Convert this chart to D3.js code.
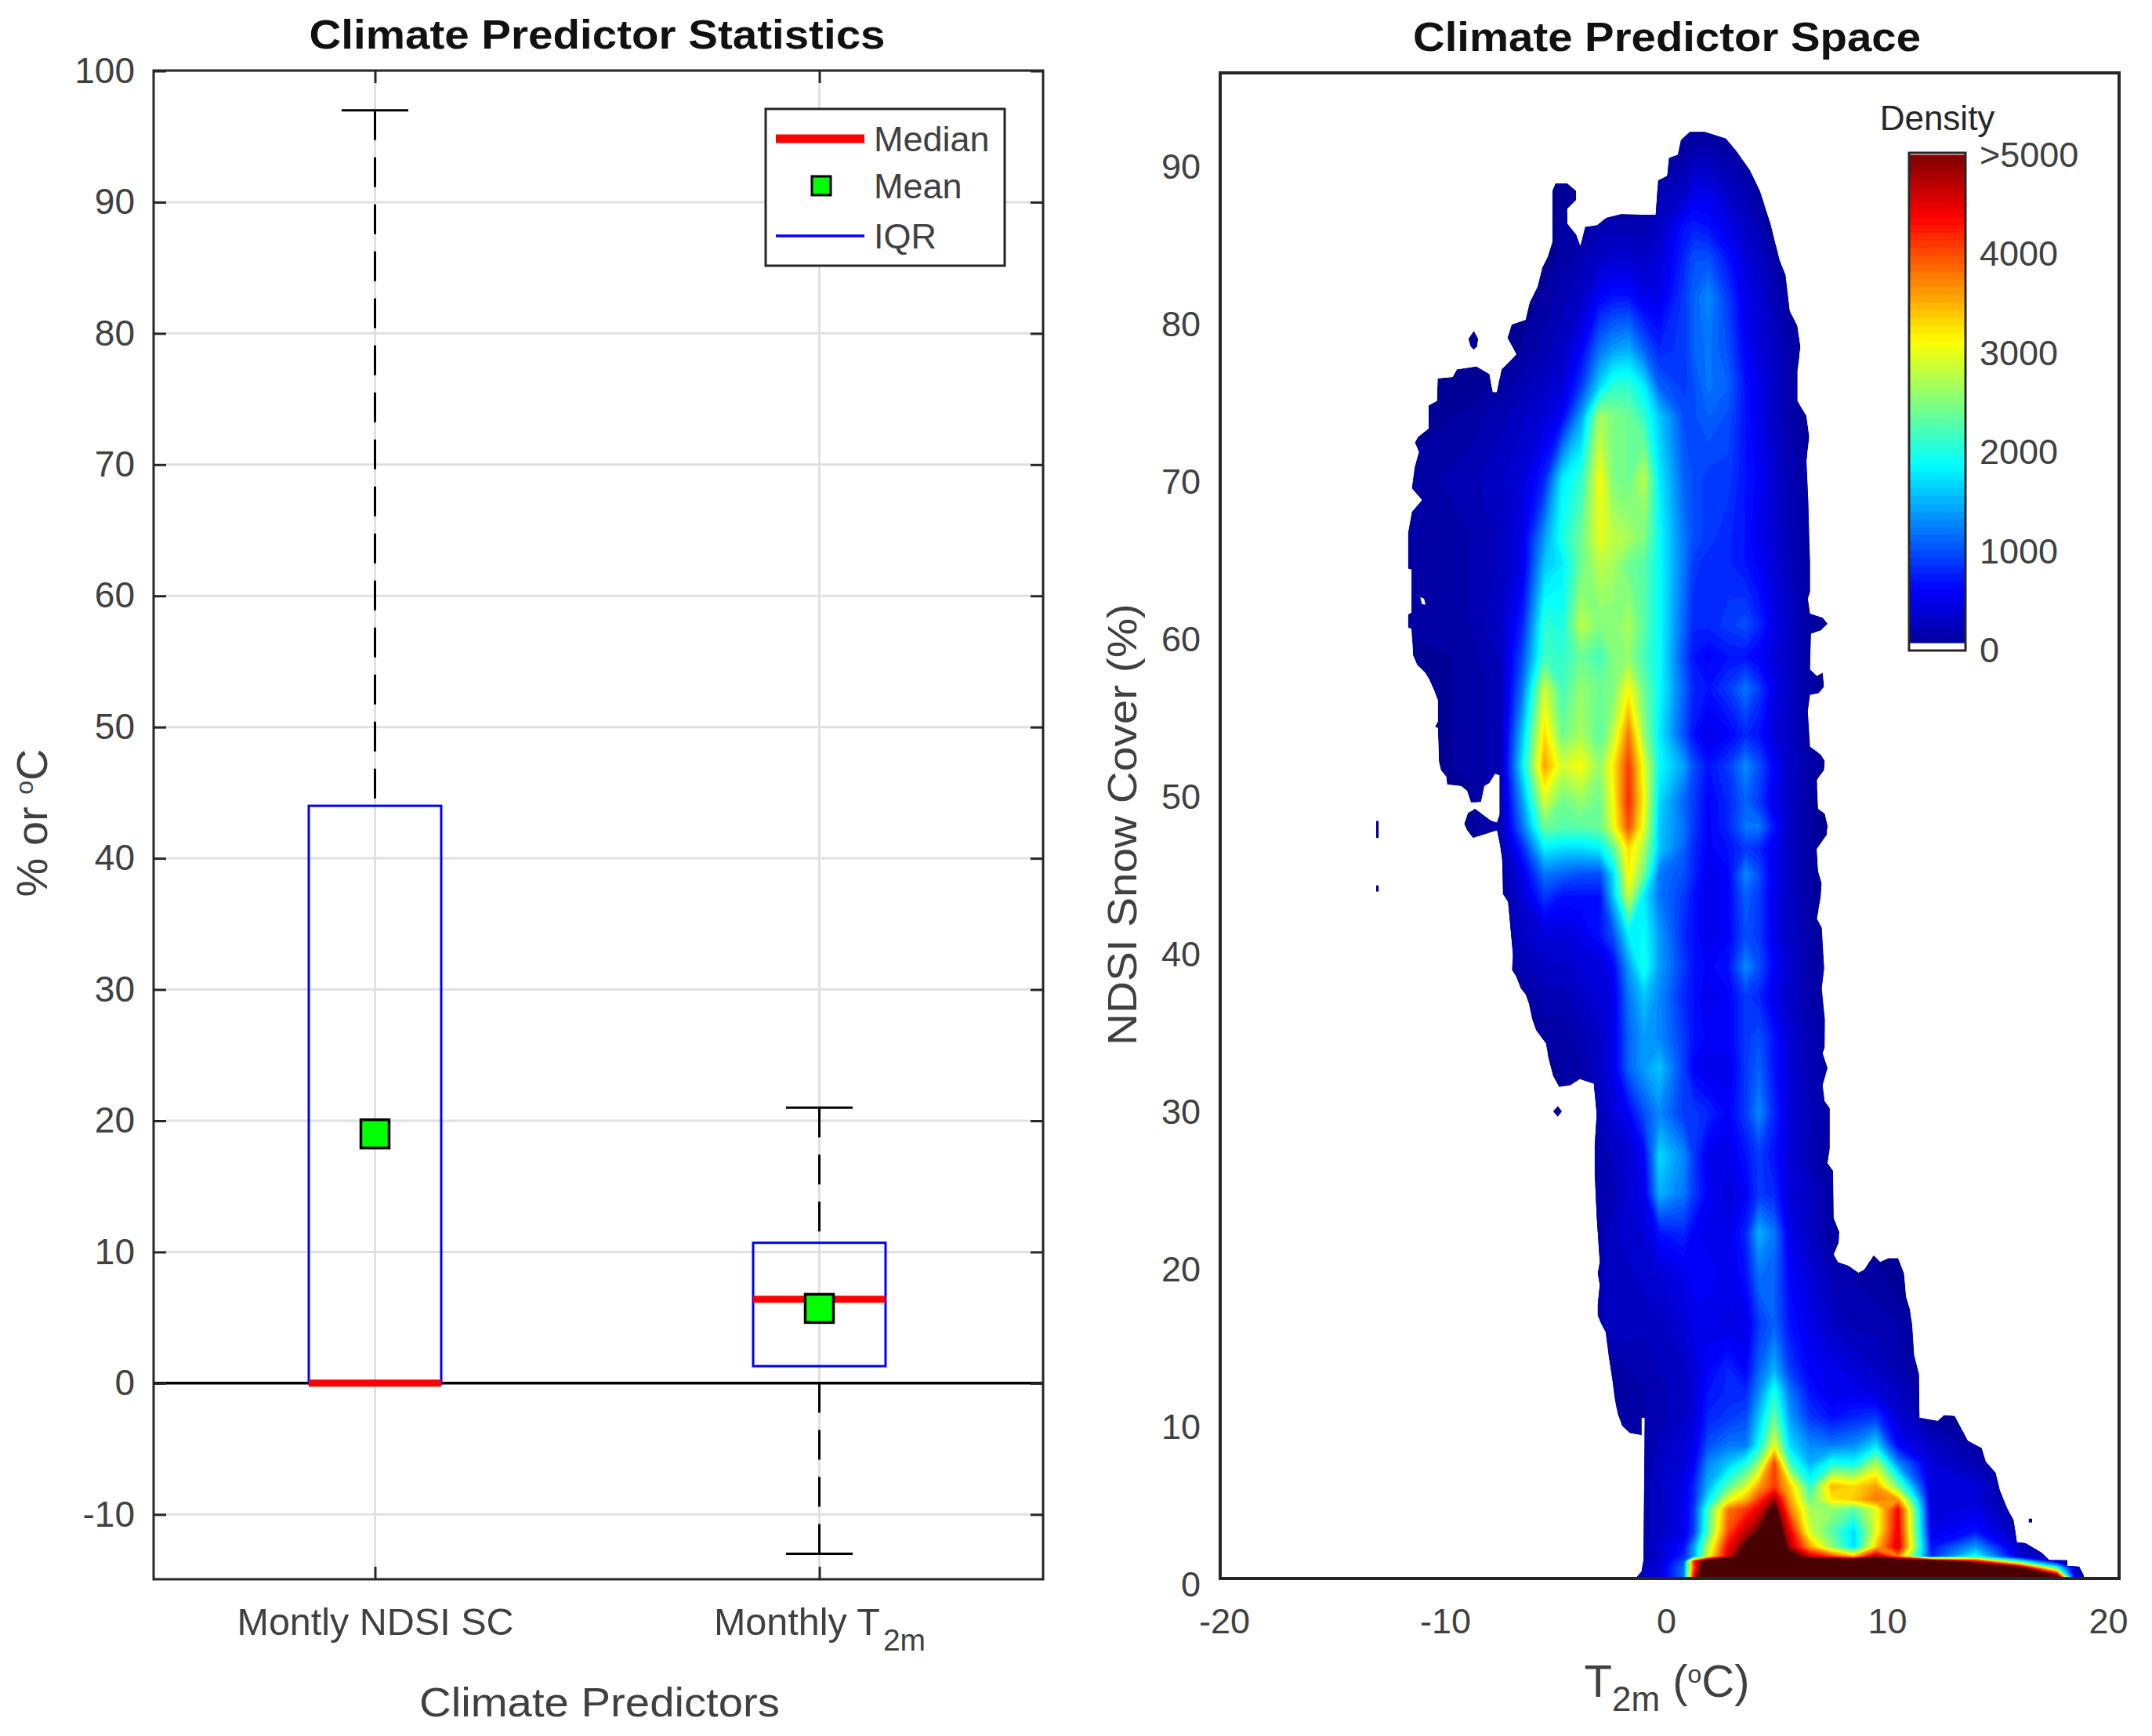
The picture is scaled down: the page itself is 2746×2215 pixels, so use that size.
<!DOCTYPE html>
<html><head><meta charset="utf-8">
<script src="https://cdn.jsdelivr.net/npm/d3@7"></script>
<style>html,body{margin:0;background:#fff}text{font-family:"Liberation Sans",Arial,sans-serif}</style>
</head><body><svg id="c" width="2746" height="2215"></svg>
<script>
// ---------- left panel data ----------
const categories = ["Montly NDSI SC", "Monthly T"];
const categorySubs = ["", "2m"];
const whiskerHigh = [97, 21];
const whiskerLow = [0, -13];
const q3 = [44, 10.7];
const q1 = [0, 1.3];
const medians = [0, 6.4];
const means = [19, 5.7];
const leftTicks = [-10,0,10,20,30,40,50,60,70,80,90,100];
// ---------- right panel data ----------
const rightXTicks = [-20,-10,0,10,20];
const rightYTicks = [0,10,20,30,40,50,60,70,80,90];
const barTicks = [0,1000,2000,3000,4000,5000];
// footprint outline [T, NDSI]
const outline = [[1.07,91.83],[1.75,91.83],[2.7,91.41],[3.16,90.65],[3.78,89.41],[4.24,88.08],[4.73,85.99],[5.13,83.7],[5.4,82.75],[5.59,80.46],[5.94,79.5],[6.08,78.18],[5.94,76.65],[5.94,74.75],[6.35,73.8],[6.48,72.46],[6.35,70.94],[6.43,68.46],[6.48,65.83],
[6.51,64.6],[6.51,62.63],[6.41,62.2],[6.51,61.25],[7.09,61],[7.31,60.6],[7,60.17],[6.55,59.98],[6.51,57.7],[6.82,57.3],[7.09,57.5],[7.15,56.6],[6.91,56.2],[6.51,56.1],[6.41,55.06],[6.51,52.8],[7,52.3],[7.18,51.9],[7.15,51.3],[6.82,50.7],[6.88,48.86],[7.18,48.56],[7.31,47.78],[7.27,47.2],[6.82,46.3],[6.88,44.9],[7.04,44.14],[7,43.25],[6.82,41.88],[7.04,41.3],[7.15,38.73],[7.04,37.45],[7.18,35.5],
[7.17,33.7],[7.08,33.35],[7.3,32.4],[7.08,31.3],[7.17,30.3],[7.4,29.85],[7.4,27.3],[7.3,26.36],[7.55,25.87],[7.58,22.86],[7.84,22],[7.8,21.3],[7.58,20.57],[7.77,20.08],[8.25,19.85],[8.7,19.4],[8.97,19.6],[9.39,20.52],[9.69,20.1],[10.05,20.33],[10.5,20.33],[10.77,19.36],[10.86,17.9],[11.04,17.07],[11.13,16.1],[11.22,14.18],[11.44,12.97],[11.46,10.2],[12.3,10],[12.57,10.37],[13.06,10.32],[13.38,9.48],[13.65,8.75],[14.28,8.27],[14.46,7.43],[14.91,6.7],[15.09,5.62],[15.45,4.4],[15.72,3.69],[15.87,2.29],[16.26,2.24],[16.98,1.64],[17.34,1.16],[18.15,1.16],[18.15,0.8],[18.69,0.75],[18.96,0],
[-1.38,0],[-1.11,0.43],[-1.02,1.16],[-0.97,10.2],[-1.11,10.2],[-1.11,9.1],[-1.65,9.24],[-2,9.72],[-2.19,10.44],[-2.32,11.4],[-2.42,12.5],[-2.59,14.06],[-2.73,15.63],[-2.95,16.23],[-3.09,16.7],[-3.09,17.4],[-3,18.64],[-3.09,19.36],[-3,20.09],[-3.14,22.98],[-3.23,25.63],[-3.23,27.44],[-3.14,29.49],[-3.27,31.42],[-3.9,31.71],[-4.35,31.3],[-4.84,31.2],[-5.12,31.9],[-5.34,33.1],[-5.43,33.95],[-5.88,34.8],
[-6.06,35.52],[-6.2,36.47],[-6.35,37.06],[-6.57,37.45],[-6.79,38.24],[-6.97,38.63],[-6.93,39.6],[-7.02,41],[-7.15,42.96],[-7.38,43.45],[-7.42,45.7],[-7.53,46.7],[-7.65,47.5],[-8.74,47],[-9.01,47.5],[-9.14,47.9],[-8.97,48.6],[-8.65,48.86],[-7.92,48.1],[-7.65,47.97],[-7.53,48.5],[-7.53,51],[-7.74,51.1],[-8.01,50.5],[-8.23,50.3],[-8.38,49.3],[-8.83,49.25],[-9.01,50],[-9.28,50.3],[-9.91,50.4],[-9.95,50.9],[-10.19,51.3],[-10.28,51.85],[-10.33,53.98],[-10.46,54.07],[-10.33,54.4],[-10.33,55.75],[-10.51,56.4],[-10.73,57.1],[-10.91,57.5],[-11.27,58],[-11.45,58.6],[-11.52,60.27],[-11.67,60.37],[-11.67,61.2],[-11.52,61.3],[-11.52,64.05],[-11.67,64.1],[-11.67,66.37],
[-11.5,67.7],[-11.04,68.46],[-11.5,69.2],[-11.37,70.56],[-11.18,71.5],[-11.37,72.1],[-11.23,72.46],[-10.75,73],[-10.75,74.46],[-10.37,74.75],[-10.34,76.18],[-9.66,76.27],[-9.47,76.75],[-8.58,76.94],[-7.99,76.46],[-7.85,75.3],[-7.66,75.3],[-7.45,76.75],[-6.77,77.7],[-7.18,78.75],[-6.99,79.6],[-6.36,79.9],[-6.18,81],[-5.82,82],[-5.61,83.2],[-5.36,83.9],[-5.15,84.84],[-5.15,88.08],[-5.01,88.56],[-4.47,88.56],[-4.07,88.08],[-4.07,87.5],[-4.47,86.94],[-4.47,86],[-4.07,85.3],[-3.88,84.56],[-3.66,85.8],[-3.12,85.9],[-2.71,86.37],[-2.04,86.6],[-0.82,86.56],[-0.47,86.56],[-0.36,88.75],[0.05,89.03],[0.13,90.18],[0.53,90.37],[0.67,91.3]];
const islands = [
 [[-8.7,79.2],[-8.5,78.7],[-8.55,78.2],[-8.7,78],[-8.85,78.2],[-8.95,78.7]],
 [[-13.12,48.1],[-13,48.1],[-13,47],[-13.12,47]],
 [[-13.12,44],[-13,44],[-13,43.6],[-13.12,43.6]],
 [[-4.9,30],[-4.71,29.65],[-4.9,29.3],[-5.12,29.65]],
 [[16.4,3.8],[16.56,3.8],[16.56,3.55],[16.4,3.55]]];
const holes = [[[-11.13,62.3],[-10.95,62.2],[-10.88,61.8],[-11.05,61.85]]];
// density grid (hundreds) : densityT columns, densityS rows
const densityT = [-12,-9,-7.5,-6.5,-5.5,-4.7,-3.85,-3,-2.4,-1.7,-1,-.3,.8,1.25,1.9,2.8,3.6,4.2,4.9,5.6,6.5,7.5,8.5,9.5,10.5,12,14,16,17.7,18.5];
const densityS = [0,.7,1.1,1.4,2,3,4.4,5,5.86,7.3,8.5,10.2,11.9,13.3,16.2,19.4,21.9,24.4,26.8,29.5,32.4,34.3,36.9,38.8,40.8,43.35,44.7,46.3,47.7,49.25,51.6,53.6,56.5,58.5,60.5,64.4,66,69.8,73.8,75.7,78,81.4,83.9,85.8,88,91];
const densityRows = [
[0,0,0,0,0,0,0,0,0,1, 3,4,12,45,65,65,65,65,65,65, 65,65,65,65,65,65,65,65,62,5],
[0,0,0,0,0,0,0,0,0,1, 3,4,12,40,62,65,65,65,65,65, 65,65,65,65,65,65,62,52,20,3],
[0,0,0,0,0,0,0,0,0,1, 2,4,10,42,58,62,62,64,64,62, 62,62,62,62,62,60,45,20,4,0],
[0,0,0,0,0,0,0,0,0,1, 2,3,8,14,30,46,55,62,62,55, 46,41,35,48,38,8,20,4,2,0],
[0,0,0,0,0,0,0,0,0,1, 2,4,7,14,28,44,52,60,60,48, 36,26,17,34,46,7,14,3,0,0],
[0,0,0,0,0,0,0,0,.5,1, 2,3,5,9,23,40,47,51,57,45, 29,23,17,30,45,5,7,2,0,0],
[0,0,0,0,0,0,0,0,.5,1, 2,3,5,9,22,38,41,45,53,38, 27,26,23,30,44,4,5,0,0,0],
[0,0,0,0,0,0,0,0,.5,1, 2,3,5,8,18,30,35,41,49,36, 24,32,34,38,36,4,4,0,0,0],
[0,0,0,0,0,0,0,0,.5,1, 2,3,5,8,15,23,29,36,41,34, 21,35,33,36,24,4,4,0,0,0],
[0,0,0,0,0,0,0,0,.5,1, 1.5,3,4,6,13,16,20,26,41,22, 15,20,19,27,13,4,2,0,0,0],
[0,0,0,0,0,0,0,0,.5,1, 1.5,2.5,4,5,10,12,12,19,30,17, 13,12,13,17,6,3,1,0,0,0],
[0,0,0,0,0,0,0,0,.5,1, 1.5,2,3,4,8,9,10,16,24,14, 9,7,8,9,4,1,0,0,0,0],
[0,0,0,0,0,0,0,0,1,1, 1.5,2,3,4,7,8,8,13,20,12, 7,5,5,4,3,0,0,0,0,0],
[0,0,0,0,0,0,0,0,1,1.5, 2,2.5,3,4,6,8,6,11,15,9, 6,5,4,3,2,0,0,0,0,0],
[0,0,0,0,0,0,0,2,3,3, 2.5,3,4,5,5,4.5,5,9,11,7, 5,3,2,2,1.5,0,0,0,0,0],
[0,0,0,0,0,0,0,2,3,3, 3.5,4,5,6,6,5,7,12,11,6, 4,2,1.5,1,0,0,0,0,0,0],
[0,0,0,0,0,0,0,2,3,3.5, 4,7,8,6,5,5,8,15,12,5, 3,1,0,0,0,0,0,0,0,0],
[0,0,0,0,0,0,0,2,2,4, 5,15,12,9,6,4,6,9,8,4, 3,1,0,0,0,0,0,0,0,0],
[0,0,0,0,0,0,0,2,2.5,3.5, 6,17,13,9,5,5,7,9,7,4, 2,1,0,0,0,0,0,0,0,0],
[0,0,0,0,0,0,1,2.5,4,6, 10,13,9,9,8,6,9,13,8,4, 2.5,1,0,0,0,0,0,0,0,0],
[0,0,0,0,0,1,1.5,3,5,11, 14,16,9,6,5,5,9,11,7,4, 2,1,0,0,0,0,0,0,0,0],
[0,0,0,0,1,1,2,3,5,11, 14,13,9,7,6,6,9,10,7,4, 2,1,0,0,0,0,0,0,0,0],
[0,0,0,1,2,2,3,4,5,12, 16,13,8,7,5,6,9,8,5,3, 1.5,.5,0,0,0,0,0,0,0,0],
[0,0,.5,2,3,3,4,4,6,14, 20,14,9,7,6,7,13,10,6,3.5, 1.5,.5,0,0,0,0,0,0,0,0],
[0,0,1,3,4,4,5,7,10,18, 19,14,8,7,5,6,10,9,5,3, 1.5,.5,0,0,0,0,0,0,0,0],
[0,0,1,4,9,7,7,7,16,29, 18,12,9,7,5,6,11,9,5,3, 1,0,0,0,0,0,0,0,0,0],
[0,0,1,5,12,11,10,10,17,32, 24,12,10,8,5,6,13,10,5,3, 1,0,0,0,0,0,0,0,0,0],
[0,0,1.5,8,18,17,17,18,23,33, 27,16,11,8,6,7,9,8,5,3, 1,0,0,0,0,0,0,0,0,0],
[0,.5,2,12,24,23,23,24,30,40, 30,16,12,9,6,8,12,12,7,3, 1,0,0,0,0,0,0,0,0,0],
[0,.5,2,14,29,24,26,24,31,42, 31,17,11,9,6,8,11,9,5,3, 1,0,0,0,0,0,0,0,0,0],
[0,1,2,18,36,29,31,26,32,41, 30,19,14,10,7,9,13,10,6,3, 1.5,0,0,0,0,0,0,0,0,0],
[0,1,2,16,33,24,27,23,28,38, 26,18,10,7,5,6,8,7,4,3, 1,0,0,0,0,0,0,0,0,0],
[0,1,2,12,29,22,26,24,25,31, 24,19,11,8,7,9,12,9,5,3, 1,0,0,0,0,0,0,0,0,0],
[0,1,2.5,10,22,21,24,22,25,26, 22,19,10,7,6,7,7,6,4,3, 1,0,0,0,0,0,0,0,0,0],
[1,1.5,3,8,21,20,28,25,25,27, 23,19,11,8,8,9,10,8,5,3, 1,0,0,0,0,0,0,0,0,0],
[1,1.5,2.5,5,16,18,24,28,27,24, 23,19,12,9,8,8,7,6,4,2.5, 1,0,0,0,0,0,0,0,0,0],
[1,1.5,2.5,5,14,20,24,30,28,27, 25,19,12,10,9,8,7,5,4,2, 1,0,0,0,0,0,0,0,0,0],
[1,2,3,4,8,18,21,31,25,24, 28,18,11,10,9,9,7,6,3.5,2, 1,0,0,0,0,0,0,0,0,0],
[0,1,2,3,4,6,14,27,25,24, 21,16,10,10,11,10,7,5,3,1.5, 0,0,0,0,0,0,0,0,0,0],
[0,0,1,2,3,4,9,17,21,21, 18,11,9,10,12,11,7,5,3,1.5, 0,0,0,0,0,0,0,0,0,0],
[0,0,0,1,2,3,6,12,14,15, 11,8,9,11,12,10,6,4,3,1.5, 0,0,0,0,0,0,0,0,0,0],
[0,0,0,0,1,2,3,6,7,7, 5,5,9,11,13,9,5,4,2,1, 0,0,0,0,0,0,0,0,0,0],
[0,0,0,0,0,1,2,3,3.5,3.5, 3,4,8,10,10,7,4,3,1.5,0, 0,0,0,0,0,0,0,0,0,0],
[0,0,0,0,0,1,1,2,2,2, 2,3,7,7.5,7,5,3,2,0,0, 0,0,0,0,0,0,0,0,0,0],
[0,0,0,0,0,.5,0,0,0,0, 0,2,3,5,5,3,2,1,0,0, 0,0,0,0,0,0,0,0,0,0],
[0,0,0,0,0,0,0,0,0,0, 0,0,1,1.5,1.5,1,0,0,0,0, 0,0,0,0,0,0,0,0,0,0]];

const svg = d3.select("#c");
const INK = "#262626", LAB = "#404040";

// ---------- helpers ----------
function txt(x,y,s,size,opt={}){
  const t = svg.append("text").attr("x",x).attr("y",y).attr("font-size",size)
    .attr("fill",opt.fill||LAB).attr("text-anchor",opt.anchor||"middle").text(s);
  if(opt.weight) t.attr("font-weight",opt.weight);
  if(opt.len) t.attr("textLength",opt.len).attr("lengthAdjust","spacingAndGlyphs");
  if(opt.rot) t.attr("transform",`rotate(-90 ${x} ${y})`);
  return t;
}
function styleAxis(g,size){
  g.attr("font-family",null).attr("font-size",size);
  g.selectAll("text").attr("fill",LAB);
  g.select(".domain").remove();
  g.selectAll(".tick line").attr("stroke",INK).attr("stroke-width",3);
}
const plain = d => String(d);

// ---------- left panel ----------
const L = {l:196,r:1331,t:90,b:2015};
const xL = d3.scaleLinear().domain([.5,2.5]).range([L.l-1,L.r-2]);
const yL = d3.scaleLinear().domain([-15,100]).range([L.b+1,L.t+.5]);
const left = svg.append("g");
left.selectAll("line.gy").data(leftTicks).join("line")
  .attr("x1",L.l+16).attr("x2",L.r-16).attr("y1",d=>yL(d)).attr("y2",d=>yL(d)).attr("stroke","#e0e0e0").attr("stroke-width",3);
left.selectAll("line.gx").data([1,2]).join("line").attr("class","gx")
  .attr("x1",d=>xL(d)).attr("x2",d=>xL(d)).attr("y1",L.t+16).attr("y2",L.b-16).attr("stroke","#e0e0e0").attr("stroke-width",3);
left.append("line").attr("x1",L.l).attr("x2",L.r).attr("y1",yL(0)).attr("y2",yL(0)).attr("stroke","#000").attr("stroke-width",3.5);
const boxes = d3.range(2);
// whiskers
left.selectAll("line.wh").data(boxes).join("line").attr("class","wh")
  .attr("x1",i=>xL(i+1)).attr("x2",i=>xL(i+1)).attr("y1",i=>yL(whiskerHigh[i])).attr("y2",i=>yL(q3[i]))
  .attr("stroke","#000").attr("stroke-width",3).attr("stroke-dasharray","38 22");
left.selectAll("line.wl").data(boxes).join("line").attr("class","wl")
  .attr("x1",i=>xL(i+1)).attr("x2",i=>xL(i+1)).attr("y1",i=>yL(whiskerLow[i])).attr("y2",i=>yL(q1[i]))
  .attr("stroke","#000").attr("stroke-width",3).attr("stroke-dasharray","38 22");
left.selectAll("line.ch").data([0,1]).join("line").attr("class","ch")
  .attr("x1",i=>xL(i+1-.075)).attr("x2",i=>xL(i+1+.075)).attr("y1",i=>yL(whiskerHigh[i])).attr("y2",i=>yL(whiskerHigh[i])).attr("stroke","#000").attr("stroke-width",3);
left.selectAll("line.cl").data([1]).join("line").attr("class","cl")
  .attr("x1",i=>xL(i+1-.075)).attr("x2",i=>xL(i+1+.075)).attr("y1",i=>yL(whiskerLow[i])).attr("y2",i=>yL(whiskerLow[i])).attr("stroke","#000").attr("stroke-width",3);
// boxes
left.selectAll("rect.box").data(boxes).join("rect").attr("class","box")
  .attr("x",i=>xL(i+1-.149)).attr("width",xL(1.149)-xL(.851)).attr("y",i=>yL(q3[i])).attr("height",i=>yL(q1[i])-yL(q3[i]))
  .attr("fill","none").attr("stroke","#0000ff").attr("stroke-width",3);
left.selectAll("line.med").data(boxes).join("line").attr("class","med")
  .attr("x1",i=>xL(i+1-.149)).attr("x2",i=>xL(i+1+.149)).attr("y1",i=>yL(medians[i])).attr("y2",i=>yL(medians[i])).attr("stroke","#ff0000").attr("stroke-width",9);
left.selectAll("rect.mean").data(boxes).join("rect").attr("class","mean")
  .attr("x",i=>xL(i+1)-18).attr("y",i=>yL(means[i])-18).attr("width",36).attr("height",36)
  .attr("fill","#00ff00").attr("stroke","#000").attr("stroke-width",3.5);
// frame + axes
left.append("rect").attr("x",L.l).attr("y",L.t).attr("width",L.r-L.l).attr("height",L.b-L.t).attr("fill","none").attr("stroke",INK).attr("stroke-width",3);
const ax1 = left.append("g").attr("transform",`translate(${L.l},0)`).call(d3.axisLeft(yL).tickValues(leftTicks).tickSizeInner(-16).tickSizeOuter(0).tickPadding(24).tickFormat(plain));
styleAxis(ax1,46);
const ax1b = left.append("g").attr("transform",`translate(${L.r},0)`).call(d3.axisRight(yL).tickValues(leftTicks).tickSizeInner(-16).tickSizeOuter(0).tickFormat(""));
styleAxis(ax1b,46);
const ax2 = left.append("g").attr("transform",`translate(0,${L.b})`).call(d3.axisBottom(xL).tickValues([1,2]).tickSizeInner(-16).tickSizeOuter(0).tickPadding(37).tickFormat(d=>categories[d-1]));
styleAxis(ax2,48.5);
ax2.selectAll("text").each(function(d){
  if(categorySubs[d-1]) d3.select(this).append("tspan").attr("font-size",39).attr("dy",20).attr("dx",4).text(categorySubs[d-1]);
});
const ax2b = left.append("g").attr("transform",`translate(0,${L.t})`).call(d3.axisTop(xL).tickValues([1,2]).tickSizeInner(-16).tickSizeOuter(0).tickFormat(""));
styleAxis(ax2b,45);
txt(762,62,"Climate Predictor Statistics",52,{fill:"#111",weight:"bold",len:735});
txt(765,2190,"Climate Predictors",52,{len:460});
const yl = txt(60,1050,"% or ",56,{rot:true});
yl.append("tspan").attr("font-size",32).attr("dy",-18).text("o");
yl.append("tspan").attr("dy",18).text("C");

// legend
const lg = svg.append("g");
lg.append("rect").attr("x",977).attr("y",139).attr("width",305).attr("height",200).attr("fill","#fff").attr("stroke",INK).attr("stroke-width",3);
lg.append("line").attr("x1",990).attr("x2",1103).attr("y1",177).attr("y2",177).attr("stroke","#ff0000").attr("stroke-width",11);
lg.append("rect").attr("x",1036).attr("y",225).attr("width",24).attr("height",24).attr("fill","#00ff00").attr("stroke","#000").attr("stroke-width",3);
lg.append("line").attr("x1",990).attr("x2",1103).attr("y1",301).attr("y2",301).attr("stroke","#0000ff").attr("stroke-width",3.5);
[["Median",193],["Mean",253],["IQR",317]].forEach(([s,y])=>txt(1115,y,s,45,{anchor:"start"}));

// ---------- right panel ----------
const R = {l:1557,r:2704,t:93,b:2014};
const xR = d3.scaleLinear().domain([(R.l-2126)/28.2,(R.r-2126)/28.2]).range([R.l,R.r]);
const yR = d3.scaleLinear().domain([0,(R.b-R.t)/20.1]).range([R.b,R.t]);
const jet = d3.scaleLinear().domain([0,.125,.375,.625,.875,1])
  .range(["rgb(0,0,143)","rgb(0,0,255)","rgb(0,255,255)","rgb(255,255,0)","rgb(255,0,0)","rgb(128,0,0)"]);
const NL = 64, maxD = 5000;
const levels = d3.range(NL).map(i=>i*maxD/NL);
const line = d3.line().x(d=>xR(d[0])).y(d=>yR(d[1])).curve(d3.curveLinearClosed);
const footD = [outline,...islands,...holes].map(line).join(" ");
const defs = svg.append("defs");
defs.append("clipPath").attr("id","foot").append("path").attr("d",footD).attr("clip-rule","evenodd");
defs.append("clipPath").attr("id","rbox").append("rect").attr("x",R.l).attr("y",R.t).attr("width",R.r-R.l).attr("height",R.b-R.t);
const heat = svg.append("g").attr("clip-path","url(#rbox)").append("g").attr("clip-path","url(#foot)");
heat.append("path").attr("d",footD).attr("fill-rule","evenodd").attr("fill",jet(.5/NL));
const nc = densityT.length, nr = densityS.length;
const colS = d3.scaleLinear().domain(densityT.map((_,i)=>i+.5)).range(densityT);
const rowS = d3.scaleLinear().domain(densityS.map((_,i)=>i+.5)).range(densityS);
const proj = d3.geoTransform({point(x,y){this.stream.point(xR(colS(x)),yR(rowS(y)));}});
const path = d3.geoPath(proj);
const flat = densityRows.flat().map(v=>v*100);
const contours = d3.contours().size([nc,nr]).thresholds(levels.slice(1).concat([maxD]))(flat);
heat.selectAll("path.c").data(contours).join("path").attr("class","c")
  .attr("d",path).attr("fill",d=>d.value>=maxD?"#480000":jet((d.value+maxD/NL/2)/maxD)).attr("stroke","none");
svg.append("rect").attr("x",R.l).attr("y",R.t).attr("width",R.r-R.l).attr("height",R.b-R.t).attr("fill","none").attr("stroke",INK).attr("stroke-width",4);
const ax3 = svg.append("g").attr("transform",`translate(0,${R.b})`).call(d3.axisBottom(xR).tickValues(rightXTicks).tickSize(0).tickPadding(38).tickFormat(plain));
styleAxis(ax3,45); ax3.selectAll("line").remove();
const ax4 = svg.append("g").attr("transform",`translate(${R.l},0)`).call(d3.axisLeft(yR).tickValues(rightYTicks).tickSize(0).tickPadding(25).tickFormat(plain));
styleAxis(ax4,45); ax4.selectAll("line").remove();
ax4.selectAll("text").attr("dy","0.5em");
txt(2127,65,"Climate Predictor Space",52,{fill:"#111",weight:"bold",len:648});
txt(1450,1052,"NDSI Snow Cover (%)",52,{rot:true,len:564});
const tl = txt(2127,2165,"T",58);
tl.append("tspan").attr("font-size",44).attr("dy",18).text("2m");
tl.append("tspan").attr("dy",-18).text(" (");
tl.append("tspan").attr("font-size",32).attr("dy",-18).text("o");
tl.append("tspan").attr("dy",18).text("C)");

// colour bar
const cb = {x:2436,w:72};
const yB = d3.scaleLinear().domain([0,maxD]).range([830,198]);
svg.selectAll("rect.cb").data(levels).join("rect").attr("class","cb")
  .attr("x",cb.x).attr("width",cb.w).attr("y",d=>yB(d+maxD/NL)-.5).attr("height",yB(0)-yB(maxD/NL)+1)
  .attr("fill",d=>d===0?"#fff":jet((d+maxD/NL/2)/maxD));
svg.append("rect").attr("x",cb.x).attr("y",yB(maxD)-3).attr("width",cb.w).attr("height",yB(0)-yB(maxD)+3).attr("fill","none").attr("stroke",INK).attr("stroke-width",3);
const ax5 = svg.append("g").attr("transform",`translate(${cb.x+cb.w},0)`).call(d3.axisRight(yB).tickValues(barTicks).tickSize(0).tickPadding(18).tickFormat(d=>d===5000?">5000":d));
styleAxis(ax5,45); ax5.selectAll("line").remove();
txt(2472,166,"Density",44,{fill:INK});
</script></body></html>
